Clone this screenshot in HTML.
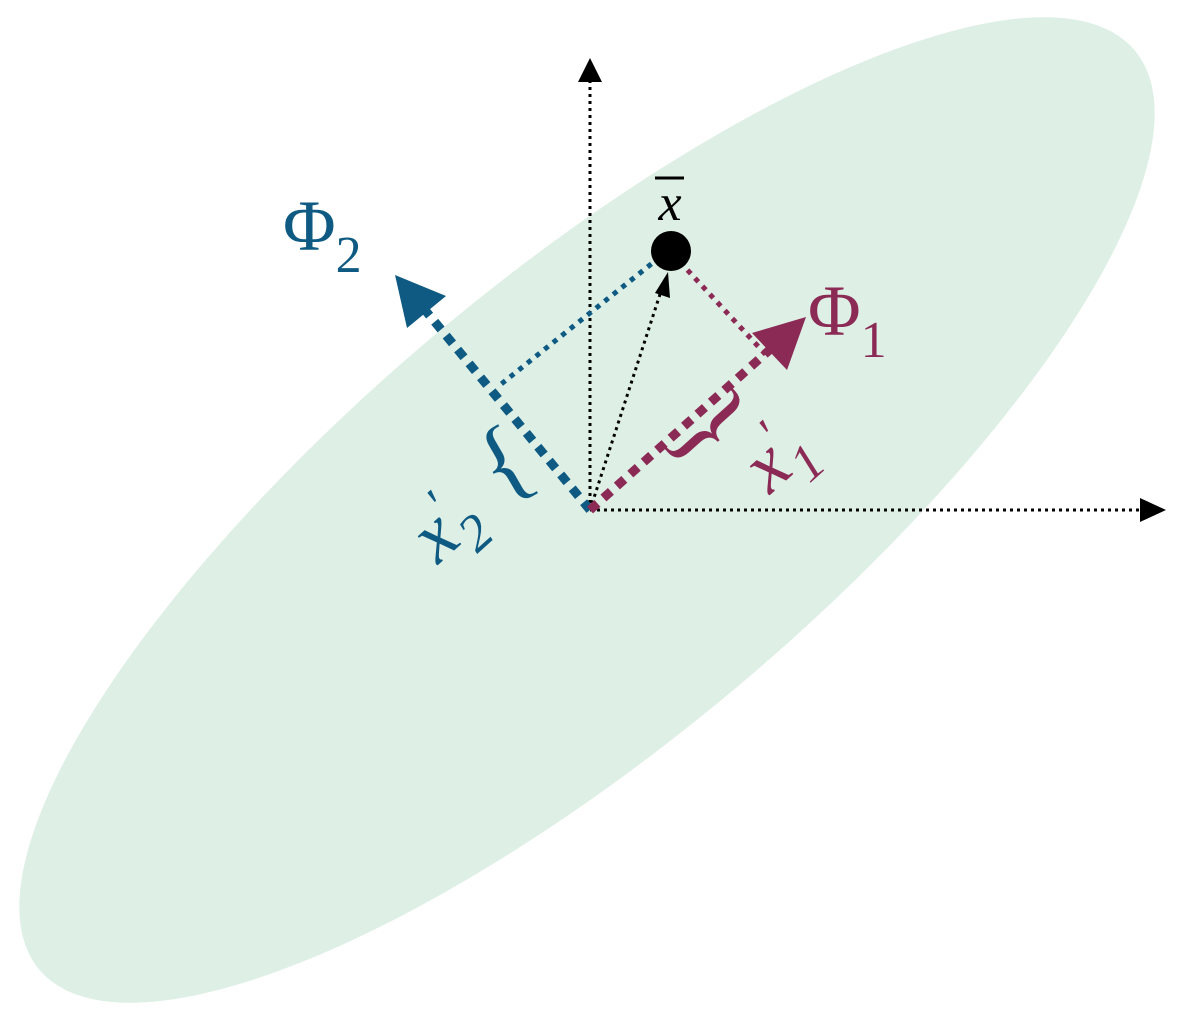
<!DOCTYPE html>
<html><head><meta charset="utf-8"><style>
html,body{margin:0;padding:0;background:#fff;width:1198px;height:1022px;overflow:hidden}
svg{display:block}
text{font-family:"Liberation Serif",serif}
</style></head><body>
<svg width="1198" height="1022" viewBox="0 0 1198 1022">
<ellipse cx="587" cy="510" rx="715" ry="232" transform="rotate(-40 587 510)" fill="#deefe5"/>
<line x1="590" y1="510" x2="590" y2="68" stroke="#000" stroke-width="3" stroke-dasharray="3 4"/>
<path d="M590,58 L578,82 L602,82 Z" fill="#000"/>
<line x1="590" y1="510" x2="1145" y2="510" stroke="#000" stroke-width="3" stroke-dasharray="3 4"/>
<path d="M1166,510 L1140,498 L1140,522 Z" fill="#000"/>
<line x1="590" y1="510" x2="663" y2="285" stroke="#000" stroke-width="3" stroke-dasharray="3 4"/>
<path d="M668,272 L670,298 L655,293 Z" fill="#000"/>
<line x1="660" y1="257" x2="500" y2="385" stroke="#0e5a82" stroke-width="5" stroke-dasharray="5 6"/>
<line x1="680" y1="262" x2="768" y2="357" stroke="#8b2a55" stroke-width="5" stroke-dasharray="5 6"/>
<line x1="590" y1="510" x2="425" y2="310" stroke="#0e5a82" stroke-width="9" stroke-dasharray="10 8"/>
<path d="M395,275 L446,296 L407,328 Z" fill="#0e5a82"/>
<line x1="590" y1="510" x2="775" y2="345" stroke="#8b2a55" stroke-width="9" stroke-dasharray="10 8"/>
<path d="M806,317 L787,370 L752,333 Z" fill="#8b2a55"/>
<circle cx="671" cy="251" r="20" fill="#000"/>
<text x="670" y="220" font-size="52" font-style="italic" text-anchor="middle">x</text>
<line x1="655" y1="178" x2="684" y2="178" stroke="#000" stroke-width="3"/>
<text x="283" y="250" font-size="72" fill="#0e5a82">Φ<tspan font-size="52" dy="22">2</tspan></text>
<text x="808" y="335" font-size="72" fill="#8b2a55">Φ<tspan font-size="52" dy="22">1</tspan></text>
<text font-size="110" fill="#8b2a55" transform="translate(712 425) rotate(-132)" text-anchor="middle" dominant-baseline="middle">{</text>
<text font-size="76" font-style="italic" fill="#8b2a55" transform="translate(770 495) rotate(-42)">x<tspan font-size="50" dy="-28">'</tspan><tspan font-size="52" dx="-8" dy="46">1</tspan></text>
<text font-size="96" fill="#0e5a82" transform="translate(508 470) rotate(-30)" text-anchor="middle" dominant-baseline="middle">{</text>
<text font-size="76" font-style="italic" fill="#0e5a82" transform="translate(438 565) rotate(-42)">x<tspan font-size="50" dy="-28">'</tspan><tspan font-size="52" dx="-8" dy="46">2</tspan></text>
</svg>
</body></html>
